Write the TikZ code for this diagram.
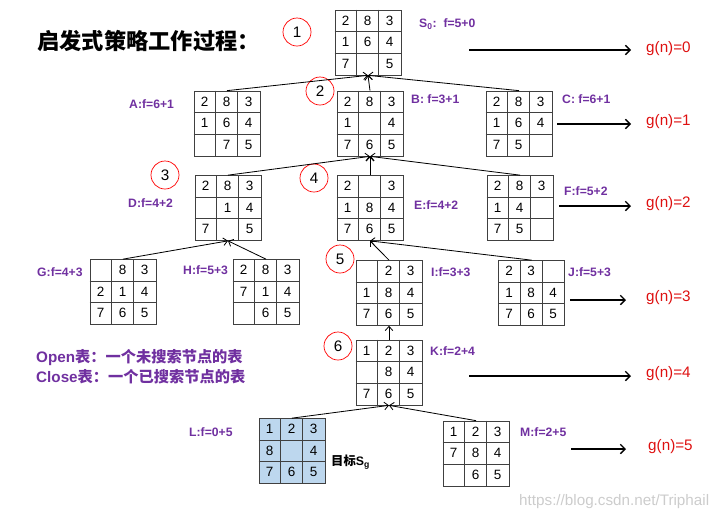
\documentclass[tikz,border=0pt]{standalone}
\usepackage{fontspec}
\setmainfont{Liberation Sans}
\newfontfamily\cjk{Noto Sans CJK SC}
\usetikzlibrary{arrows.meta}
\definecolor{labpurple}{RGB}{112,48,160}
\definecolor{gred}{RGB}{222,16,16}
\definecolor{goalblue}{RGB}{189,215,238}
\tikzset{
  board/.style={rectangle, draw=black!75, line width=0.6pt,
    minimum width=1.98cm, minimum height=1.95cm, inner sep=0pt},
  gridln/.style={draw=black!75, line width=0.6pt},
  cell/.style={font=\fontsize{11.5}{12}\selectfont, inner sep=0pt},
  flab/.style={anchor=west, text=labpurple,
    font=\fontsize{10.4}{12}\selectfont\bfseries, inner sep=0pt},
  stepno/.style={circle, draw=red, line width=0.6pt, minimum size=0.84cm,
    inner sep=0pt, font=\fontsize{13}{14}\selectfont},
  gval/.style={anchor=west, text=gred, font=\fontsize{13}{14}\selectfont,
    inner sep=0pt},
  arrT/.style={-{Straight Barb[length=3.5pt,width=6.5pt]}, line width=0.7pt},
  arrG/.style={-{Straight Barb[length=4pt,width=8pt]}, line width=1.1pt,
    shorten >=0.45cm},
}
% one 3x3 board: [options] name, centre, nine entries (0 = blank)
\newcommand{\board}[4][]{%
  \node[board,#1] (#2) at (#3) {};
  \begin{scope}[shift={(#2.north west)}]
    \draw[gridln] (22,0) -- (22,65) (44,0) -- (44,65)
                  (0,21.7) -- (66,21.7) (0,43.3) -- (66,43.3);
    \foreach \v [count=\i from 0] in {#4} {
      \pgfmathtruncatemacro\bcol{mod(\i,3)}
      \pgfmathtruncatemacro\brow{div(\i,3)}
      \ifnum\v>0 \node[cell] (#2-\i) at (11+22*\bcol, 10.8+21.7*\brow) {\v};\fi
    }
  \end{scope}}

\begin{document}
\begin{tikzpicture}[x=0.03cm, y=-0.03cm]
  \useasboundingbox (0,0) rectangle (726,520);

  \node[anchor=west, inner sep=0pt,
        font=\cjk\bfseries\fontsize{19}{20}\selectfont] (title)
       at (37,41) {启发式策略工作过程：};

  % search tree
  \board{S0}{368,42.5}{2,8,3,1,6,4,7,0,5}
  \board{A}{227,123.5}{2,8,3,1,6,4,0,7,5}
  \board{B}{370,123.5}{2,8,3,1,0,4,7,6,5}
  \board{C}{519,123.5}{2,8,3,1,6,4,7,5,0}
  \board{D}{228,208}{2,8,3,0,1,4,7,0,5}
  \board{E}{370,208}{2,0,3,1,8,4,7,6,5}
  \board{F}{520,208}{2,8,3,1,4,0,7,5,0}
  \board{G}{123,292}{0,8,3,2,1,4,7,6,5}
  \board{H}{266,292}{2,8,3,7,1,4,0,6,5}
  \board{I}{389,293}{0,2,3,1,8,4,7,6,5}
  \board{J}{531.5,293}{2,3,0,1,8,4,7,6,5}
  \board{K}{389,372.5}{1,2,3,0,8,4,7,6,5}
  \board[fill=goalblue]{L}{292,451}{1,2,3,8,0,4,7,6,5}
  \board{M}{476,453.5}{1,2,3,7,8,4,0,6,5}

  % f values
  \node[flab] (fS0) at (419,24) {S\textsubscript{0}:\ \ f=5+0};
  \node[flab] (fA) at (129,104) {A:f=6+1};
  \node[flab] (fB) at (411,99)  {B: f=3+1};
  \node[flab] (fC) at (562,99)  {C: f=6+1};
  \node[flab] (fD) at (128,203) {D:f=4+2};
  \node[flab] (fE) at (414,205) {E:f=4+2};
  \node[flab] (fF) at (564,191) {F:f=5+2};
  \node[flab] (fG) at (37,272)  {G:f=4+3};
  \node[flab] (fH) at (183,270) {H:f=5+3};
  \node[flab] (fI) at (431,272) {I:f=3+3};
  \node[flab] (fJ) at (568,272) {J:f=5+3};
  \node[flab] (fK) at (430,351) {K:f=2+4};
  \node[flab] (fL) at (189,432) {L:f=0+5};
  \node[flab] (fM) at (520,432) {M:f=2+5};
  \node[anchor=west, inner sep=0pt,
        font=\bfseries\fontsize{10.5}{12}\selectfont] (goal)
       at (331,462) {{\cjk 目标}S\textsubscript{g}};

  % expansion order
  \node[stepno] (n1) at (297,32)  {1};
  \node[stepno] (n2) at (320,91)  {2};
  \node[stepno] (n3) at (165,175) {3};
  \node[stepno] (n4) at (314,178) {4};
  \node[stepno] (n5) at (340,259) {5};
  \node[stepno] (n6) at (338,346) {6};

  \draw[arrT] (A.north) -- (S0.south);
  \draw[arrT] (B.north) -- (S0.south);
  \draw[arrT] (C.north) -- (S0.south);
  \draw[arrT] (D.north) -- (B.south);
  \draw[arrT] (E.north) -- (B.south);
  \draw[arrT] (F.north) -- (B.south);
  \draw[arrT] (G.north) -- (D.south);
  \draw[arrT] (H.north) -- (D.south);
  \draw[arrT] (I.north) -- (E.south);
  \draw[arrT] (J.north) -- (E.south);
  \draw[arrT] (K.north) -- (I.south);
  \draw[arrT] (L.north) -- (K.south);
  \draw[arrT] (M.north) -- (K.south);

  % depth g(n)
  \node[gval] (g0) at (646,49)  {g(n)=0};
  \node[gval] (g1) at (646,122) {g(n)=1};
  \node[gval] (g2) at (646,204) {g(n)=2};
  \node[gval] (g3) at (646,298) {g(n)=3};
  \node[gval] (g4) at (646,374) {g(n)=4};
  \node[gval] (g5) at (648,447) {g(n)=5};
  \coordinate (s0) at (469,50);
  \coordinate (s1) at (557,124);
  \coordinate (s2) at (559,206);
  \coordinate (s3) at (570,300);
  \coordinate (s4) at (469,376);
  \coordinate (s5) at (571,449);
  \draw[arrG] (s0) -- (s0 -| g0.west);
  \draw[arrG] (s1) -- (s1 -| g1.west);
  \draw[arrG] (s2) -- (s2 -| g2.west);
  \draw[arrG, shorten >=0.6cm] (s3) -- (s3 -| g3.west);
  \draw[arrG] (s4) -- (s4 -| g4.west);
  \draw[arrG, shorten >=0.66cm] (s5) -- (s5 -| g5.west);

  \node[anchor=west, inner sep=0pt, align=left, text=labpurple,
        font=\bfseries\fontsize{13}{17}\selectfont] (tables)
       at (36,367) {Open{\cjk 表：一个未搜索节点的表}\\Close{\cjk 表：一个已搜索节点的表}};

  \node[anchor=west, inner sep=0pt, text=black!20,
        font=\fontsize{13}{14}\selectfont] (mark)
       at (519,502) {https://blog.csdn.net/Triphail};
\end{tikzpicture}
\end{document}
